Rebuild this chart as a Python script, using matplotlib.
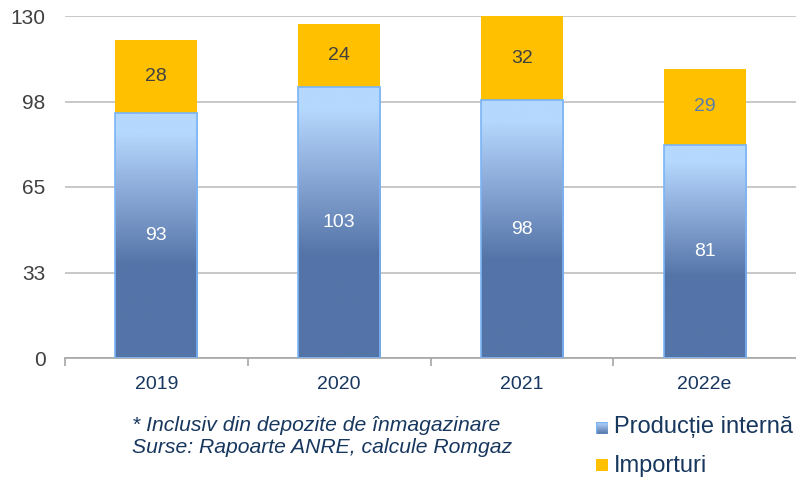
import numpy as np
import matplotlib
matplotlib.use("Agg")
import matplotlib.pyplot as plt
from matplotlib.colors import LinearSegmentedColormap
from matplotlib.patches import Rectangle

plt.rcParams['font.family'] = ['Liberation Sans', 'DejaVu Sans']

categories = ["2019", "2020", "2021", "2022e"]
productie = [93, 103, 98, 81]
importuri = [28, 24, 32, 29]
yticks = [0, 32.5, 65, 97.5, 130]
ytick_labels = ["0", "33", "65", "98", "130"]
import_label_colors = ["#404040", "#404040", "#404040", "#5A7AAE"]

DARK = "#5474A8"
LIGHT = "#B5D8FE"
YELLOW = "#FFC000"
EDGE = "#7AB4F5"
NAVY = "#17375E"

cmap = LinearSegmentedColormap.from_list(
    "grad", [(0.0, DARK), (0.38, DARK), (0.70, "#8FAEDB"), (0.92, LIGHT), (1.0, LIGHT)])

fig = plt.figure(figsize=(7.96, 4.8), dpi=100)
W, H = 796, 480
left, right, top, bottom = 65, 796, 16, 358
ax = fig.add_axes([left / W, 1 - bottom / H, (right - left) / W, (bottom - top) / H])

x = np.arange(len(categories))
bw = 0.45
ax.set_xlim(-0.5, len(categories) - 0.5)
ax.set_ylim(0, 130)

grad = np.linspace(0, 1, 256).reshape(-1, 1)
for xi, p, im_v, lc in zip(x, productie, importuri, import_label_colors):
    ax.imshow(grad, cmap=cmap, origin="lower", aspect="auto",
              extent=(xi - bw / 2, xi + bw / 2, 0, p), zorder=2, interpolation="bilinear")
    ax.add_patch(Rectangle((xi - bw / 2, 0), bw, p, fill=False, edgecolor=EDGE, lw=1.2, zorder=3))
    ax.text(xi, p / 2, str(p), ha="center", va="center", color="white", fontsize=14, zorder=4)
    ax.text(xi, p + im_v / 2, str(im_v), ha="center", va="center", color=lc, fontsize=14, zorder=4)

ax.bar(x, importuri, bw, bottom=productie, color=YELLOW, edgecolor="none", zorder=2)

ax.set_yticks(yticks)
ax.set_yticklabels(ytick_labels)
ax.yaxis.grid(True, color="#BFBFBF", lw=1.2, zorder=0)
ax.set_axisbelow(True)
ax.tick_params(axis="y", length=0, labelsize=15, labelcolor="#404040", pad=14)

ax.set_xticks(np.arange(-0.5, len(categories) - 0.5, 1.0))
ax.set_xticklabels([])
ax.set_xticks(x, minor=True)
ax.set_xticklabels(categories, minor=True)
ax.tick_params(axis="x", which="major", length=6, color="#A6A6A6", direction="out", width=1.2)
ax.tick_params(axis="x", which="minor", length=0, labelsize=14, labelcolor=NAVY, pad=13)

for s in ["top", "right", "left"]:
    ax.spines[s].set_visible(False)
ax.spines["bottom"].set_color("#A6A6A6")
ax.spines["bottom"].set_linewidth(1.2)

fig.text(132 / W, 1 - 431 / H, "* Inclusiv din depozite de înmagazinare", fontsize=15.2,
         style="italic", color=NAVY, va="baseline")
fig.text(132 / W, 1 - 453 / H, "Surse: Rapoarte ANRE, calcule Romgaz", fontsize=15.2,
         style="italic", color=NAVY, va="baseline")

# legend
sq = 12
lax = fig.add_axes([596 / W, 1 - 434 / H, sq / W, sq / H])
lax.imshow(np.linspace(0, 1, 64).reshape(-1, 1), cmap=LinearSegmentedColormap.from_list("l", [DARK, LIGHT]),
           origin="lower", aspect="auto", extent=(0, 1, 0, 1))
lax.add_patch(Rectangle((0, 0), 1, 1, fill=False, edgecolor=EDGE, lw=1))
lax.set_axis_off()
fig.patches.append(Rectangle((596 / W, 1 - 471 / H), sq / W, sq / H, transform=fig.transFigure,
                             facecolor=YELLOW, edgecolor="none"))
fig.text(614 / W, 1 - 433 / H, "Producție internă", fontsize=17, color=NAVY, va="baseline")
fig.text(614 / W, 1 - 472 / H, "Importuri", fontsize=17, color=NAVY, va="baseline")

fig.savefig("out.png", dpi=100)
